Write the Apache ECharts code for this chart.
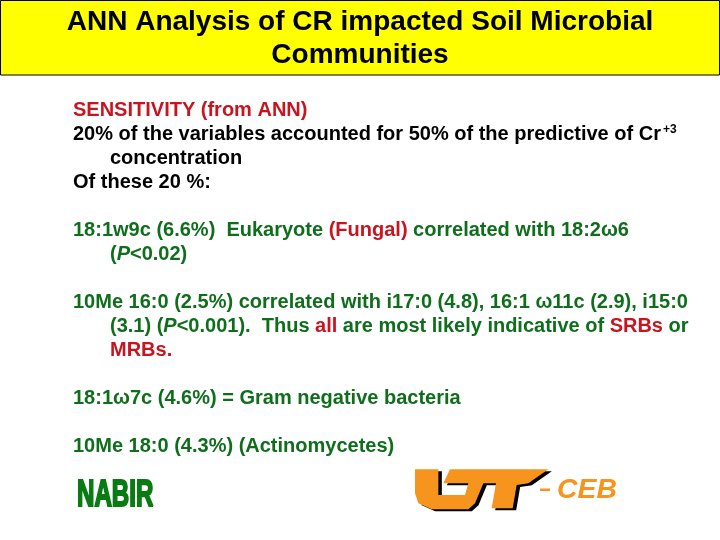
<!DOCTYPE html>
<html><head><meta charset="utf-8">
<style>html,body{margin:0;padding:0;background:#fff}#c{width:720px;height:540px}</style>
<script src="https://cdn.jsdelivr.net/npm/echarts@6/dist/echarts.min.js"></script>
</head><body><div id="c"></div>
<script>
const titleLines = ["ANN Analysis of CR impacted Soil Microbial", "Communities"];
const bodyLines = [
 "{r|SENSITIVITY (from ANN)}",
 "{k|20% of the variables accounted for 50% of the predictive of Cr}{s|+3}",
 "{k|concentration}",
 "{k|Of these 20 %:}",
 "{g|18:1w9c (6.6%)  Eukaryote }{r|(Fungal)}{g| correlated with 18:2ω6}",
 "{g|(}{gi|P}{g|<0.02)}",
 "{g|10Me 16:0 (2.5%) correlated with i17:0 (4.8), 16:1 ω11c (2.9), i15:0}",
 "{g|(3.1) (}{gi|P}{g|<0.001).  Thus }{r|all}{g| are most likely indicative of }{r|SRBs}{g| or}",
 "{r|MRBs.}",
 "{g|18:1ω7c (4.6%) = Gram negative bacteria}",
 "{g|10Me 18:0 (4.3%) (Actinomycetes)}"
];
const lineX = [73,73,110,73,73,110,73,110,110,73,73];
const lineY = [110,134,158,182,230,254,302,326,350,398,446];
const badge = "NABIR";
const logoSuffix = "CEB";
const logoShape = [[45,58],[115,58],[115,135],[195,135],[205,100],[130,100],[150,58],[445,58],[385,100],[350,105],[338,175],[275,175],[288,100],[250,100],[225,160],[205,178],[95,178],[55,160],[45,130]];

const F = '"Liberation Sans", Arial, sans-serif';
const GREEN='#0f6e1c', RED='#c8141e', ORANGE='#f7941d';
const rich = {
  r:{fill:RED,font:`bold 20px ${F}`},
  k:{fill:'#000',font:`bold 20px ${F}`},
  g:{fill:GREEN,font:`bold 20px ${F}`},
  gi:{fill:GREEN,font:`italic bold 20px ${F}`},
  s:{fill:'#000',font:`bold 12px ${F}`,padding:[0,0,8,2]}
};
const pts = (dx,dy)=>logoShape.map(p=>[400+p[0]/3+dx,450+p[1]/3+dy]);
const graphic = [
 {type:'rect',shape:{x:0.5,y:0.5,width:719,height:74.5},style:{fill:'#ffff00',stroke:'#000',lineWidth:1}},
 ...titleLines.map((t,i)=>({type:'text',x:360,y:[22,55][i],style:{text:t,fill:'#000',font:`bold 28px ${F}`,align:'center',verticalAlign:'middle'}})),
 ...bodyLines.map((t,i)=>({type:'text',x:lineX[i],y:lineY[i],style:{text:t,rich,align:'left',verticalAlign:'middle'}})),
 {type:'text',x:77,y:496,scaleX:0.67,style:{text:badge,fill:'#0a7a12',stroke:'#0a7a12',lineWidth:2,font:`bold 36px ${F}`,align:'left',verticalAlign:'middle'}},
 {type:'polygon',shape:{points:pts(3.5,2)},style:{fill:'#000'}},
 {type:'polygon',shape:{points:pts(0,0)},style:{fill:ORANGE}},
 {type:'rect',shape:{x:540,y:488.5,width:10,height:2.5},style:{fill:ORANGE}},
 {type:'text',x:557,y:491,scaleX:1.05,style:{text:logoSuffix,fill:ORANGE,font:`italic bold 27px ${F}`,align:'left',verticalAlign:'middle'}}
];
const chart = echarts.init(document.getElementById('c'));
chart.setOption({animation:false,backgroundColor:'#fff',graphic});
</script></body></html>
